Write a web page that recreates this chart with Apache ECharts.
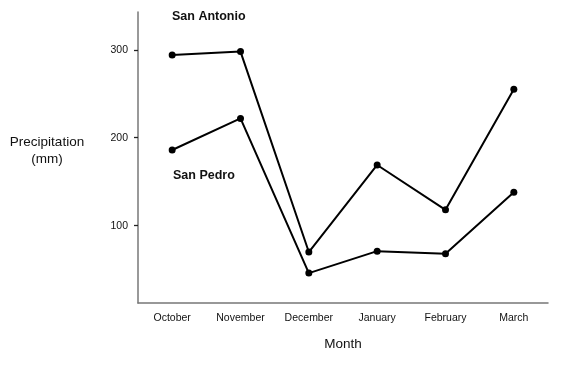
<!DOCTYPE html>
<html>
<head>
<meta charset="utf-8">
<script src="https://cdn.jsdelivr.net/npm/echarts@6/dist/echarts.min.js"></script>
<style>
  html, body { margin: 0; padding: 0; background: #fff; }
  #chart { width: 572px; height: 370px; }
</style>
</head>
<body>
<div id="chart"></div>
<script>
// data
const months = ['October', 'November', 'December', 'January', 'February', 'March'];
const sanAntonio = [294, 298, 70, 169, 118, 255];
const sanPedro = [186, 222, 46, 71, 68, 138];
const yTicks = [100, 200, 300];

const font = 'Liberation Sans, Arial, sans-serif';

const chart = echarts.init(document.getElementById('chart'));

const lineSeries = (name, values) => ({
    name: name,
    type: 'line',
    data: values,
    symbol: 'circle',
    symbolSize: 7,
    itemStyle: { color: '#000' },
    lineStyle: { color: '#000', width: 2 },
    animation: false
});

chart.setOption({
    backgroundColor: '#fff',
    animation: false,
    grid: { left: 138, right: 24, top: 12, bottom: 67 },
    xAxis: {
        type: 'category',
        data: months,
        boundaryGap: true,
        axisLine: { lineStyle: { color: '#777', width: 1.5 } },
        axisTick: { alignWithLabel: true, length: 4, lineStyle: { color: '#222', width: 1.3 } },
        axisLabel: { color: '#111', fontFamily: font, fontSize: 10.5, margin: 10 },
        name: 'Month',
        nameLocation: 'middle',
        nameGap: 34,
        nameTextStyle: { color: '#111', fontFamily: font, fontSize: 13.5 }
    },
    yAxis: {
        type: 'value',
        min: 12,
        max: 343,
        splitLine: { show: false },
        axisLine: { show: true, lineStyle: { color: '#777', width: 1.5 } },
        axisTick: { show: true, customValues: yTicks, length: 4, lineStyle: { color: '#222', width: 1.3 } },
        axisLabel: { customValues: yTicks, color: '#111', fontFamily: font, fontSize: 10.5, margin: 10 }
    },
    graphic: [
        {
            type: 'text', left: 5, top: 134,
            style: {
                text: 'Precipitation\n(mm)', fill: '#111', font: '13.5px ' + font,
                textAlign: 'center', lineHeight: 17, width: 84
            }
        },
        {
            type: 'text', left: 172, top: 10,
            style: { text: 'San Antonio', fill: '#111', font: 'bold 12.5px ' + font }
        },
        {
            type: 'text', left: 173, top: 169,
            style: { text: 'San Pedro', fill: '#111', font: 'bold 12.5px ' + font }
        }
    ],
    series: [
        lineSeries('San Antonio', sanAntonio),
        lineSeries('San Pedro', sanPedro)
    ]
});
</script>
</body>
</html>
